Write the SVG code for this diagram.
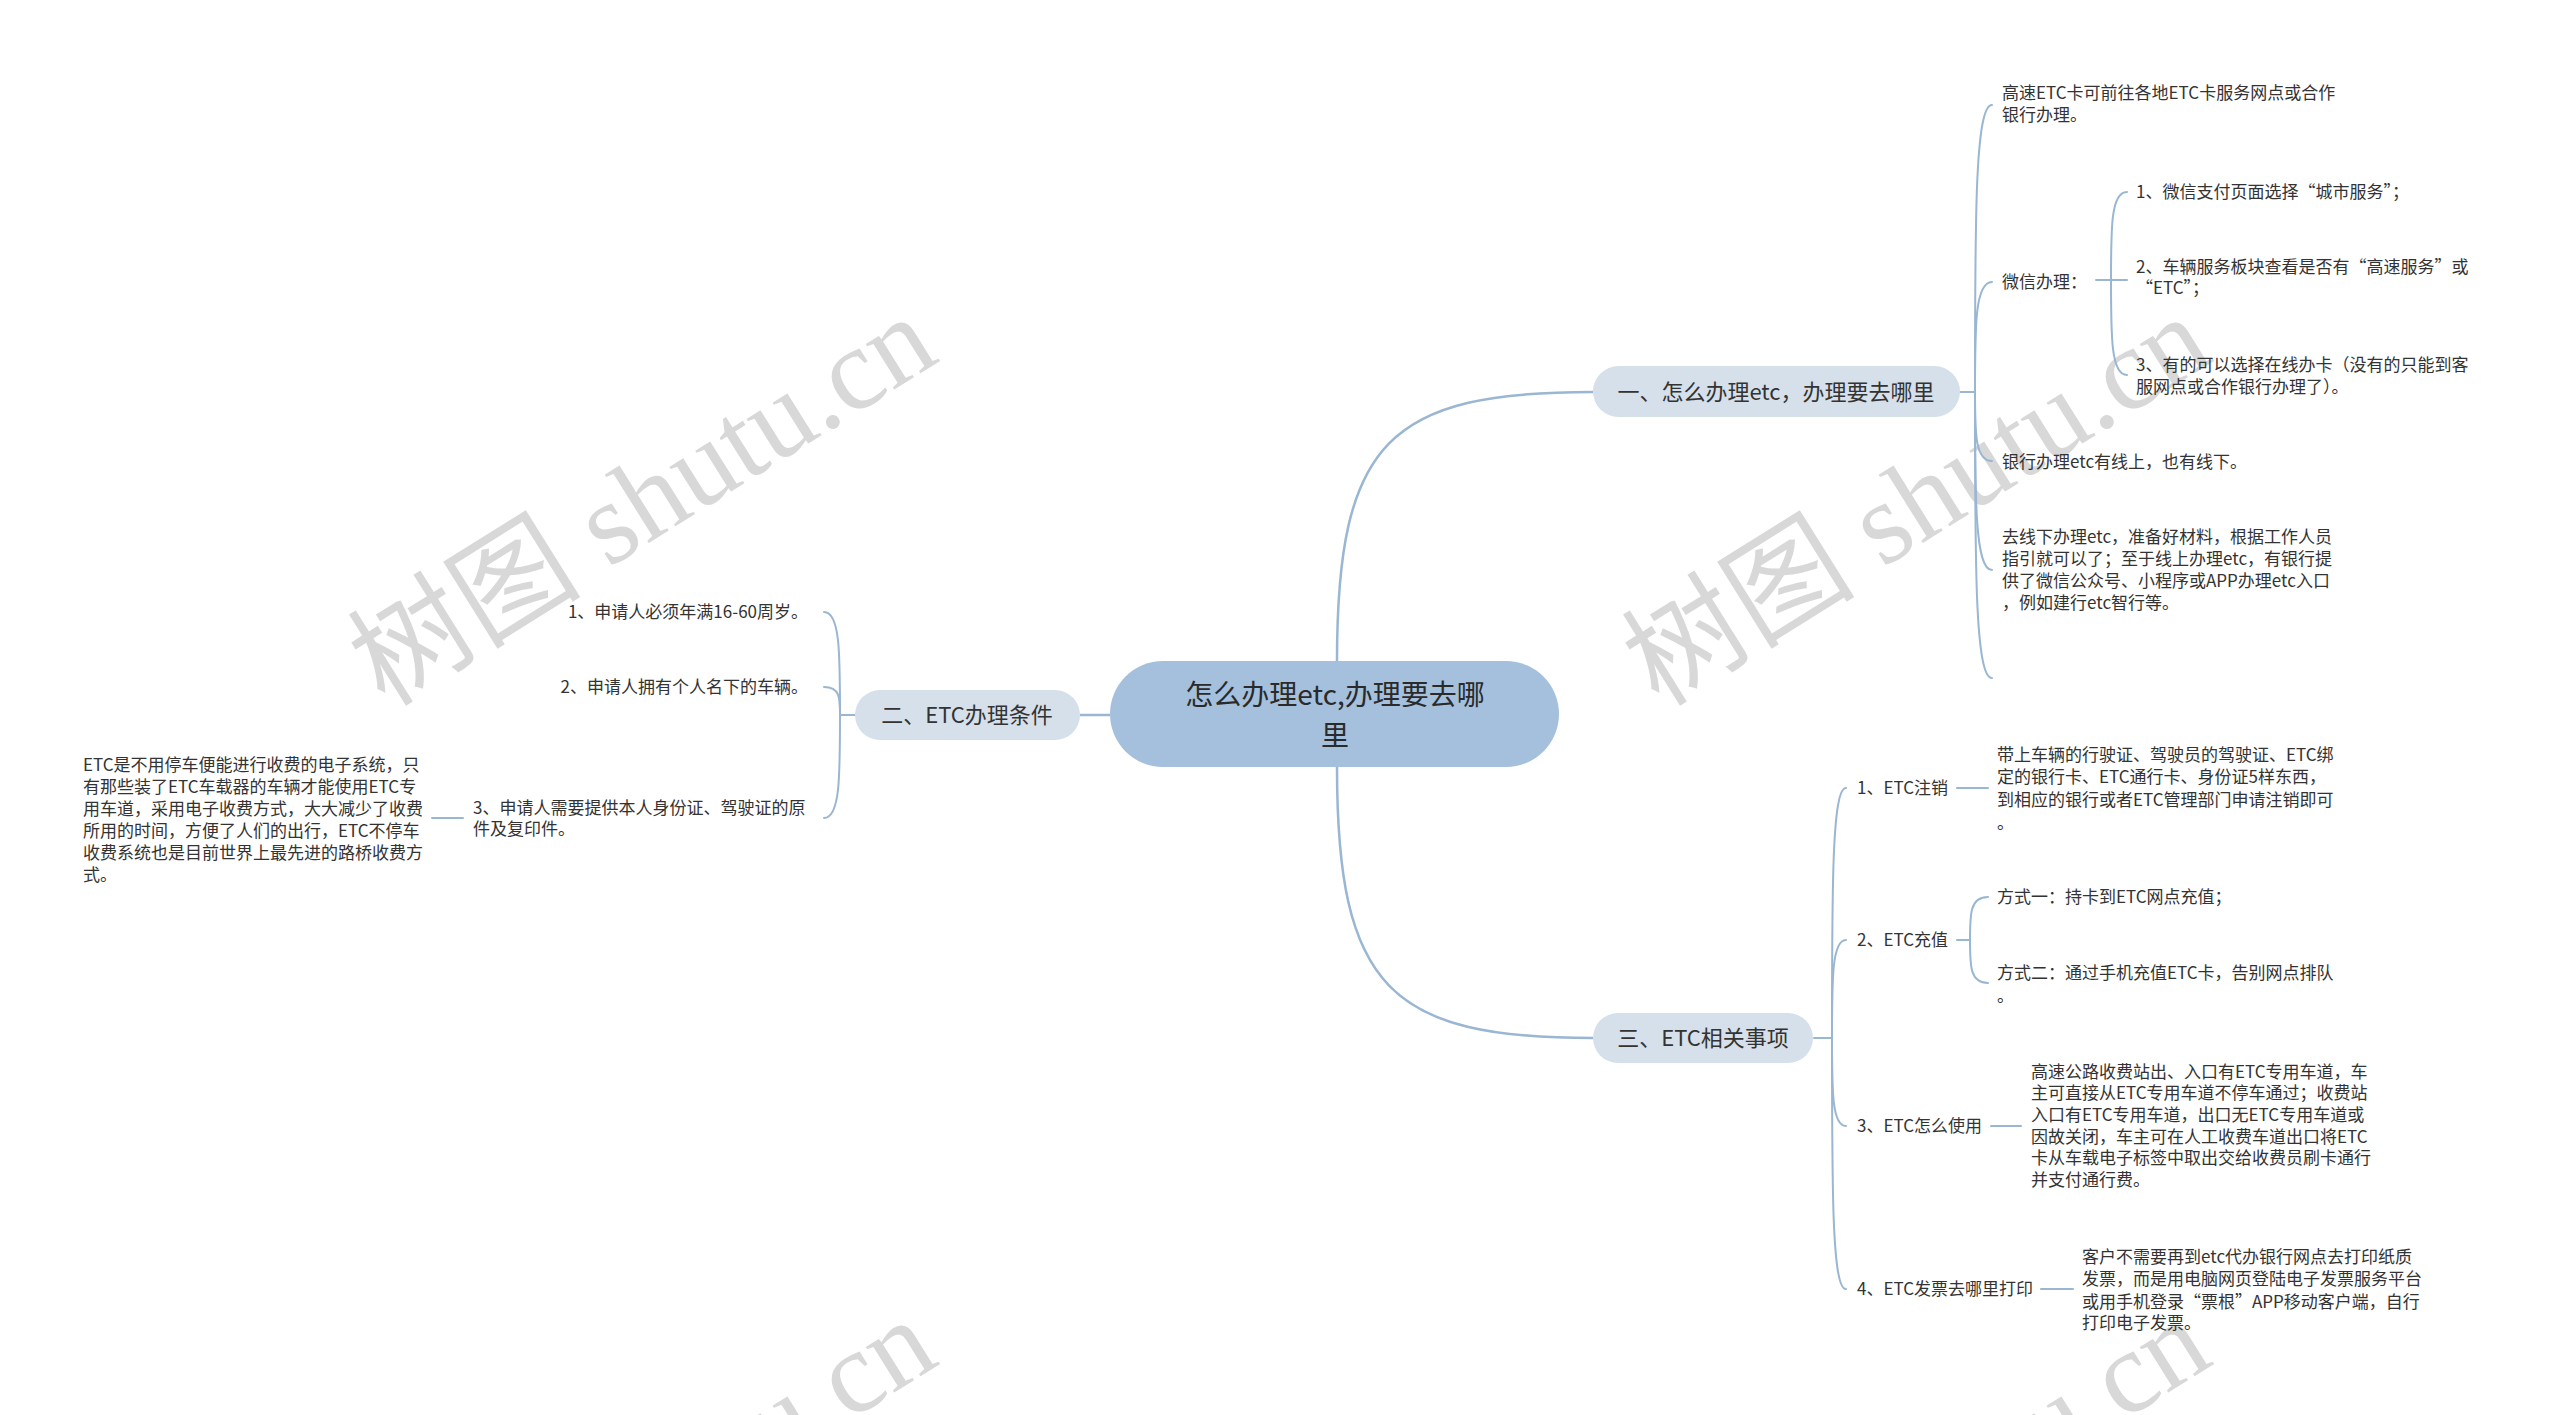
<svg xmlns="http://www.w3.org/2000/svg" width="2560" height="1415" viewBox="0 0 2560 1415">
<style>
text{font-family:"Noto Sans CJK SC","Noto Sans",sans-serif;fill:#333333}
.t{font-size:17px}
.m{font-size:22px}
.c{font-size:28px;fill:#2a2a2a}
.wm{font-family:"Liberation Serif","Noto Sans CJK SC",serif;font-size:117px;fill:#d8d8d8}
.ln{fill:none;stroke:#99b6d2;stroke-width:2;stroke-linecap:round}
.lm{fill:none;stroke:#99b6d2;stroke-width:2.5}
.mainbox{fill:#d5e0ea}
</style>
<rect width="2560" height="1415" fill="#ffffff"/>
<g id="watermarks">
<text class="wm" x="385" y="708" transform="rotate(-32 385 708)">树图 shutu.cn</text>
<text class="wm" x="1659" y="708" transform="rotate(-32 1659 708)">树图 shutu.cn</text>
<text class="wm" x="385" y="1711" transform="rotate(-32 385 1711)">树图 shutu.cn</text>
<text class="wm" x="1659" y="1711" transform="rotate(-32 1659 1711)">树图 shutu.cn</text>
</g>
<g id="connectors">
<path class="lm" d="M1337 661 C1337 440 1390 392 1593 392"/>
<path class="lm" d="M1337 767 C1337 988 1390 1038 1593 1038"/>
<path class="lm" d="M1110 715 H1080"/>
<path class="ln" d="M1959 392 H1975"/>
<path class="ln" d="M1975 392 C1975 220 1975 105 1992 105"/>
<path class="ln" d="M1975 392 C1975 326 1975 282 1992 282"/>
<path class="ln" d="M1975 392 C1975 433 1975 461 1992 461"/>
<path class="ln" d="M1975 392 C1975 499 1975 570 1992 570"/>
<path class="ln" d="M1975 392 C1975 564 1975 678 1992 678"/>
<path class="ln" d="M2096 280 H2111"/>
<path class="ln" d="M2111 280 C2111 227 2111 192 2127 192"/>
<path class="ln" d="M2111 280 H2127"/>
<path class="ln" d="M2111 280 C2111 337 2111 375 2127 375"/>
<path class="ln" d="M855 715 H840"/>
<path class="ln" d="M840 715 C840 653 840 612 824 612"/>
<path class="ln" d="M840 715 C840 698 840 687 824 687"/>
<path class="ln" d="M840 715 C840 777 840 818 824 818"/>
<path class="ln" d="M463 818 H432"/>
<path class="ln" d="M1814 1038 H1832"/>
<path class="ln" d="M1832 1038 C1832 888 1832 788 1846 788"/>
<path class="ln" d="M1832 1038 C1832 979 1832 940 1846 940"/>
<path class="ln" d="M1832 1038 C1832 1091 1832 1126 1846 1126"/>
<path class="ln" d="M1832 1038 C1832 1189 1832 1289 1846 1289"/>
<path class="ln" d="M1957 788 H1988"/>
<path class="ln" d="M1957 940 H1970"/>
<path class="ln" d="M1970 940 C1970 914 1970 897 1988 897"/>
<path class="ln" d="M1970 940 C1970 966 1970 983 1988 983"/>
<path class="ln" d="M1991 1126 H2021"/>
<path class="ln" d="M2041 1289 H2073"/>
</g>
<g id="center">
<rect x="1110" y="661" width="449" height="106" rx="53" fill="#a4c0dc"/>
<text class="c" x="1335" y="705" text-anchor="middle">怎么办理etc,办理要去哪</text>
<text class="c" x="1335" y="746" text-anchor="middle">里</text>
</g>
<g id="n1">
<rect class="mainbox" x="1593" y="366" width="367" height="51" rx="25.5"/>
<text class="m" x="1776" y="400" text-anchor="middle">一、怎么办理etc，办理要去哪里</text>
</g>
<g id="n1a">
<text class="t" x="2002" y="99">高速ETC卡可前往各地ETC卡服务网点或合作</text>
<text class="t" x="2002" y="121">银行办理。</text>
</g>
<g id="n1b"><text class="t" x="2002" y="288">微信办理：</text></g>
<g id="n1b1"><text class="t" x="2136" y="198">1、微信支付页面选择“城市服务”；</text></g>
<g id="n1b2">
<text class="t" x="2136" y="273">2、车辆服务板块查看是否有“高速服务”或</text>
<text class="t" x="2136" y="294">“ETC”；</text>
</g>
<g id="n1b3">
<text class="t" x="2136" y="371">3、有的可以选择在线办卡（没有的只能到客</text>
<text class="t" x="2136" y="393">服网点或合作银行办理了）。</text>
</g>
<g id="n1c"><text class="t" x="2002" y="468">银行办理etc有线上，也有线下。</text></g>
<g id="n1d">
<text class="t" x="2002" y="543">去线下办理etc，准备好材料，根据工作人员</text>
<text class="t" x="2002" y="565">指引就可以了；至于线上办理etc，有银行提</text>
<text class="t" x="2002" y="587">供了微信公众号、小程序或APP办理etc入口</text>
<text class="t" x="2002" y="609">，例如建行etc智行等。</text>
</g>
<g id="n2">
<rect class="mainbox" x="855" y="690" width="225" height="50" rx="25"/>
<text class="m" x="967" y="723" text-anchor="middle">二、ETC办理条件</text>
</g>
<g id="n2a"><text class="t" x="808" y="618" text-anchor="end">1、申请人必须年满16-60周岁。</text></g>
<g id="n2b"><text class="t" x="808" y="693" text-anchor="end">2、申请人拥有个人名下的车辆。</text></g>
<g id="n2c">
<text class="t" x="473" y="814">3、申请人需要提供本人身份证、驾驶证的原</text>
<text class="t" x="473" y="835">件及复印件。</text>
</g>
<g id="n2c1">
<text class="t" x="83" y="771">ETC是不用停车便能进行收费的电子系统，只</text>
<text class="t" x="83" y="793">有那些装了ETC车载器的车辆才能使用ETC专</text>
<text class="t" x="83" y="815">用车道，采用电子收费方式，大大减少了收费</text>
<text class="t" x="83" y="837">所用的时间，方便了人们的出行，ETC不停车</text>
<text class="t" x="83" y="859">收费系统也是目前世界上最先进的路桥收费方</text>
<text class="t" x="83" y="881">式。</text>
</g>
<g id="n3">
<rect class="mainbox" x="1593" y="1013" width="220" height="50" rx="25"/>
<text class="m" x="1703" y="1046" text-anchor="middle">三、ETC相关事项</text>
</g>
<g id="n3a"><text class="t" x="1857" y="794">1、ETC注销</text></g>
<g id="n3a1">
<text class="t" x="1997" y="761">带上车辆的行驶证、驾驶员的驾驶证、ETC绑</text>
<text class="t" x="1997" y="783">定的银行卡、ETC通行卡、身份证5样东西，</text>
<text class="t" x="1997" y="806">到相应的银行或者ETC管理部门申请注销即可</text>
<text class="t" x="1997" y="829">。</text>
</g>
<g id="n3b"><text class="t" x="1857" y="946">2、ETC充值</text></g>
<g id="n3b1"><text class="t" x="1997" y="903">方式一：持卡到ETC网点充值；</text></g>
<g id="n3b2">
<text class="t" x="1997" y="979">方式二：通过手机充值ETC卡，告别网点排队</text>
<text class="t" x="1997" y="1002">。</text>
</g>
<g id="n3c"><text class="t" x="1857" y="1132">3、ETC怎么使用</text></g>
<g id="n3c1">
<text class="t" x="2031" y="1078">高速公路收费站出、入口有ETC专用车道，车</text>
<text class="t" x="2031" y="1099">主可直接从ETC专用车道不停车通过；收费站</text>
<text class="t" x="2031" y="1121">入口有ETC专用车道，出口无ETC专用车道或</text>
<text class="t" x="2031" y="1143">因故关闭，车主可在人工收费车道出口将ETC</text>
<text class="t" x="2031" y="1164">卡从车载电子标签中取出交给收费员刷卡通行</text>
<text class="t" x="2031" y="1186">并支付通行费。</text>
</g>
<g id="n3d"><text class="t" x="1857" y="1295">4、ETC发票去哪里打印</text></g>
<g id="n3d1">
<text class="t" x="2082" y="1263">客户不需要再到etc代办银行网点去打印纸质</text>
<text class="t" x="2082" y="1285">发票，而是用电脑网页登陆电子发票服务平台</text>
<text class="t" x="2082" y="1308">或用手机登录“票根”APP移动客户端，自行</text>
<text class="t" x="2082" y="1329">打印电子发票。</text>
</g>
</svg>
